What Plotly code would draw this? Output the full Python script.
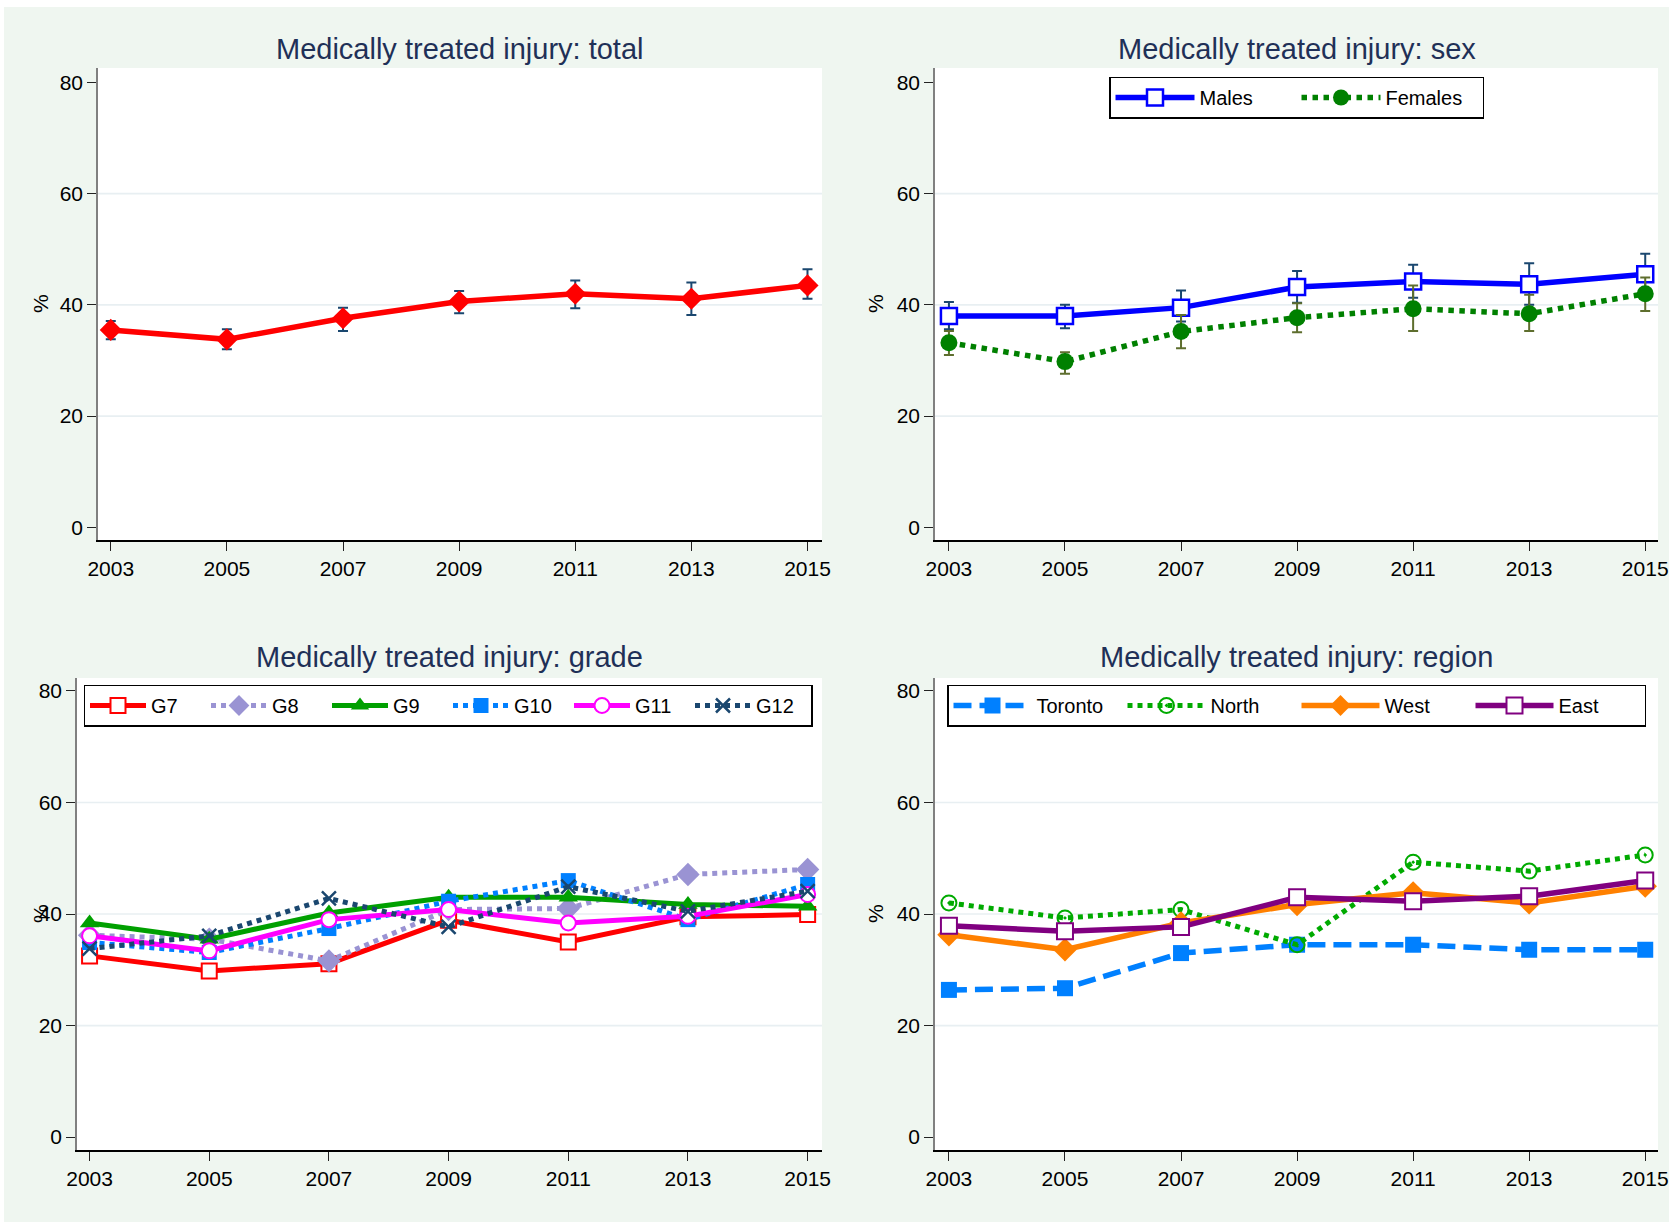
import plotly.graph_objects as go

# ---------------- data ----------------
years = [2003, 2005, 2007, 2009, 2011, 2013, 2015]
year_labels = ["2003", "2005", "2007", "2009", "2011", "2013", "2015"]
y_ticks = [0, 20, 40, 60, 80]
y_tick_labels = ["0", "20", "40", "60", "80"]
grid_vals = [20, 40, 60]

total = [35.5, 33.8, 37.6, 40.6, 42.0, 41.1, 43.5]
total_lo = [33.8, 32.0, 35.3, 38.5, 39.4, 38.2, 41.1]
total_hi = [37.1, 35.6, 39.5, 42.5, 44.4, 44.0, 46.4]

males = [38.0, 38.0, 39.5, 43.2, 44.2, 43.7, 45.5]
males_lo = [35.6, 35.8, 37.0, 40.4, 41.3, 40.0, 41.8]
males_hi = [40.5, 40.0, 42.6, 46.1, 47.2, 47.5, 49.2]
females = [33.2, 29.8, 35.2, 37.7, 39.3, 38.4, 42.0]
females_lo = [31.0, 27.6, 32.2, 35.1, 35.3, 35.3, 38.9]
females_hi = [35.3, 31.5, 38.2, 40.3, 43.5, 41.8, 44.9]

g7 = [32.5, 29.8, 31.1, 38.9, 35.0, 39.5, 39.9]
g8 = [36.2, 35.5, 31.6, 40.8, 41.0, 47.1, 48.0]
g9 = [38.4, 35.5, 40.2, 43.0, 43.0, 41.7, 41.4]
g10 = [34.9, 33.1, 37.4, 42.3, 46.0, 39.0, 45.3]
g11 = [36.1, 33.4, 39.0, 40.8, 38.4, 39.6, 43.5]
g12 = [33.8, 36.1, 42.8, 37.7, 44.9, 40.5, 44.1]

toronto = [26.4, 26.7, 33.0, 34.5, 34.5, 33.6, 33.6]
north = [42.0, 39.3, 40.8, 34.5, 49.3, 47.7, 50.6]
west = [36.3, 33.6, 38.4, 41.7, 43.8, 42.0, 45.0]
east = [37.9, 36.9, 37.7, 43.0, 42.3, 43.2, 46.0]

titles = ["Medically treated injury: total", "Medically treated injury: sex",
          "Medically treated injury: grade", "Medically treated injury: region"]

# ---------------- layout helpers ----------------
W, H = 1669, 1222
FONT = "Liberation Sans, Arial, Helvetica, sans-serif"
TITLE_COLOR = "#1F3057"
NAVY = "#1A476F"

def px_x(p):
    return p / W

def px_y(p):
    return 1 - p / H

# plot-area pixel boxes: (left, right, top, bottom) and x ranges
panels = {
    "1": dict(box=(98, 822, 68, 540), xr=[2002.78, 2015.25], yr=[-2.26, 82.57]),
    "2": dict(box=(935, 1658, 68, 540), xr=[2002.76, 2015.22], yr=[-2.26, 82.57]),
    "3": dict(box=(77, 822, 678, 1150), xr=[2002.79, 2015.24], yr=[-2.31, 82.33]),
    "4": dict(box=(935, 1658, 678, 1150), xr=[2002.76, 2015.22], yr=[-2.31, 82.33]),
}

fig = go.Figure()

def diff(a, b):
    return [x - y for x, y in zip(a, b)]

def add(panel, y, name, color, width, dash, symbol, msize, mcolor, mline_color, mline_w,
        legend=None, lo=None, hi=None, err_color=None):
    ax = "" if panel == "1" else panel
    kw = {}
    if lo is not None:
        kw["error_y"] = dict(type="data", symmetric=False, array=diff(hi, y),
                             arrayminus=diff(y, lo), color=err_color, thickness=2, width=5)
    fig.add_trace(go.Scatter(
        x=years, y=y, name=name, mode="lines+markers",
        xaxis="x" + ax, yaxis="y" + ax,
        line=dict(color=color, width=width, dash=dash),
        marker=dict(symbol=symbol, size=msize, color=mcolor,
                    line=dict(color=mline_color, width=mline_w)),
        showlegend=legend is not None, legend=legend or "legend",
        **kw))

# total
add("1", total, "Total", "#FF0000", 5.5, "solid", "diamond", 17, "#FF0000", "#FF0000", 0,
    lo=total_lo, hi=total_hi, err_color=NAVY)
# sex
add("2", males, "Males", "#0000FF", 5.5, "solid", "square", 16, "white", "#0000FF", 2.5,
    legend="legend", lo=males_lo, hi=males_hi, err_color=NAVY)
add("2", females, "Females", "#008000", 5.5, "dot", "circle", 17, "#008000", "#008000", 0,
    legend="legend", lo=females_lo, hi=females_hi, err_color="#5E6E2E")
# grade
add("3", g7, "G7", "#FF0000", 5, "solid", "square", 15, "white", "#FF0000", 2, legend="legend2")
add("3", g8, "G8", "#9A93D3", 5, "dot", "diamond", 18, "#9A93D3", "#9A93D3", 0, legend="legend2")
add("3", g9, "G9", "#00A000", 5, "solid", "triangle-up", 17, "#00A000", "#00A000", 0, legend="legend2")
add("3", g10, "G10", "#0080FF", 5, "dot", "square", 15, "#0080FF", "#0080FF", 0, legend="legend2")
add("3", g11, "G11", "#FF00FF", 5, "solid", "circle", 15, "white", "#FF00FF", 2, legend="legend2")
add("3", g12, "G12", NAVY, 5, "dot", "x-thin", 14, NAVY, NAVY, 2.5, legend="legend2")
# region
add("4", toronto, "Toronto", "#0080FF", 5.5, "18px,8px", "square", 16, "#0080FF", "#0080FF", 0, legend="legend3")
add("4", north, "North", "#00AA00", 5, "dot", "circle-open-dot", 15, "#00AA00", "#00AA00", 2, legend="legend3")
add("4", west, "West", "#FF8000", 5.5, "solid", "diamond", 18, "#FF8000", "#FF8000", 0, legend="legend3")
add("4", east, "East", "#800080", 5.5, "solid", "square", 16, "white", "#800080", 2, legend="legend3")

layout = dict(
    width=W, height=H, autosize=False,
    margin=dict(l=0, r=0, t=0, b=0, autoexpand=False),
    paper_bgcolor="#EFF6F0", plot_bgcolor="white",
    font=dict(family=FONT, size=21, color="black"),
    annotations=[], shapes=[],
)

for key, p in panels.items():
    l, r, t, b = p["box"]
    ax = "" if key == "1" else key
    xname = "xaxis" + ax
    yname = "yaxis" + ax
    layout[xname] = dict(
        domain=[px_x(l), px_x(r)], range=p["xr"], anchor="y" + ax,
        tickmode="array", tickvals=years, ticktext=year_labels,
        showgrid=False, zeroline=False, showline=True, linecolor="black", linewidth=1.5,
        ticks="outside", ticklen=9, tickwidth=1.3, tickcolor="#222",
        tickfont=dict(size=21, color="black"), fixedrange=True, automargin=False,
    )
    layout[yname] = dict(
        domain=[px_y(b), px_y(t)], range=p["yr"], anchor="x" + ax,
        tickmode="array", tickvals=y_ticks, ticktext=y_tick_labels,
        showgrid=False, zeroline=False, showline=True, linecolor="#808080", linewidth=1.5,
        ticks="outside", ticklen=9, tickwidth=1.3, tickcolor="#222",
        tickfont=dict(size=21, color="black"), fixedrange=True, automargin=False,
    )
    for g in grid_vals:
        layout["shapes"].append(dict(
            type="line", xref="x" + ax + " domain", yref="y" + ax,
            x0=0, x1=1, y0=g, y1=g, layer="below",
            line=dict(color="#E8EFF2", width=1.6)))
    # panel title
    layout["annotations"].append(dict(
        text=titles[int(key) - 1], xref="paper", yref="paper",
        x=px_x((l + r) / 2), y=px_y(49 if key in ("1", "2") else 657),
        xanchor="center", yanchor="middle", showarrow=False,
        font=dict(size=29, color=TITLE_COLOR, family=FONT)))
    # y axis title
    layout["annotations"].append(dict(
        text="%", xref="paper", yref="paper",
        x=px_x(40 if key in ("1", "3") else 875), y=px_y((t + b) / 2),
        xanchor="center", yanchor="middle", showarrow=False, textangle=-90,
        font=dict(size=21, color="black", family=FONT)))

# white outer strips
layout["shapes"].append(dict(type="rect", xref="paper", yref="paper", x0=0, x1=1,
                             y0=px_y(7), y1=1, fillcolor="white", line=dict(width=0), layer="below"))
layout["shapes"].append(dict(type="rect", xref="paper", yref="paper", x0=0, x1=px_x(4),
                             y0=0, y1=1, fillcolor="white", line=dict(width=0), layer="below"))

legend_common = dict(orientation="h", xanchor="left", yanchor="top", bgcolor="white",
                     bordercolor="black", borderwidth=1.5,
                     font=dict(size=20, color="black", family=FONT), tracegroupgap=0)
layout["legend"] = dict(legend_common, x=px_x(1109), y=px_y(76.5), itemwidth=79, entrywidth=92)
layout["legend2"] = dict(legend_common, x=px_x(83.5), y=px_y(684.5), itemwidth=56, entrywidth=50)
layout["legend3"] = dict(legend_common, x=px_x(947), y=px_y(684.5), itemwidth=78, entrywidth=81)

fig.update_layout(**layout)
fig.write_html("out.html", config={"displayModeBar": False},
               post_script="document.body.style.margin='0';document.body.style.overflow='hidden';")
